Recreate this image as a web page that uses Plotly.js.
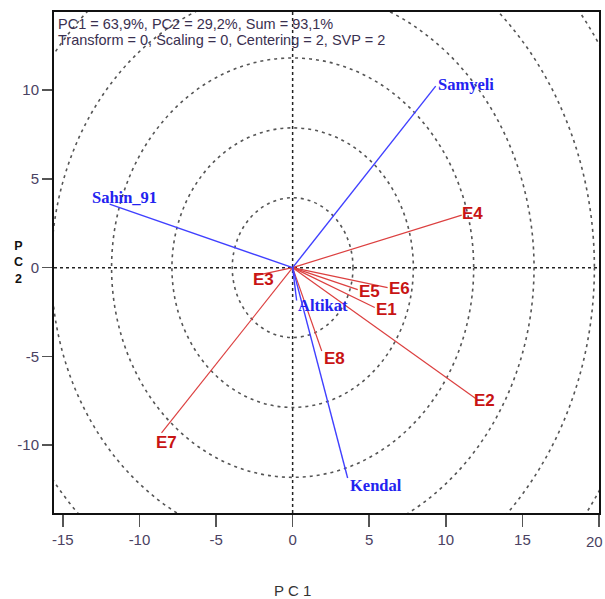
<!DOCTYPE html>
<html>
<head>
<meta charset="utf-8">
<script src="https://cdn.plot.ly/plotly-3.0.1.min.js"></script>
<style>html,body{margin:0;padding:0;background:#fff;}#chart{width:605px;height:599px;}</style>
</head>
<body>
<div id="chart"></div>
<script>
// ---- data ----
const genotypes = ['Samyeli', 'Sahin_91', 'Altikat', 'Kendal'];
const genoPC1 = [9.34, -11.95, 0.26, 3.59];
const genoPC2 = [10.23, 3.58, -1.85, -11.86];

const environments = ['E1', 'E2', 'E3', 'E4', 'E5', 'E6', 'E7', 'E8'];
const envPC1 = [5.36, 11.95, -2.42, 11.04, 4.25, 6.2, -8.56, 1.9];
const envPC2 = [-2.25, -7.38, -0.45, 2.96, -1.24, -1.13, -9.32, -4.7];

const circleRadii = [3.94, 7.88, 11.82, 15.76, 19.7, 23.64];

const xTicks = [-15, -10, -5, 0, 5, 10, 15, 20];
const yTicks = [-10, -5, 0, 5, 10];

const infoLines = ['PC1 = 63,9%, PC2 = 29,2%, Sum = 93,1%',
                   'Transform = 0, Scaling = 0, Centering = 2, SVP = 2'];

// ---- styling (label offsets in screen pixels: [dx, dy down]) ----
const genoOffsets = {Samyeli: [1, -2], Sahin_91: [-19, -7], Altikat: [0, 5], Kendal: [1, 7]};
const envOffsets = {E1: [0, 2], E2: [-3, 2], E3: [-4, 4], E4: [-1, -2], E5: [0, 2], E6: [0, 1], E7: [-7, 10], E8: [1, 7]};

function vectorTrace(xs, ys, color, width) {
  const x = [], y = [];
  xs.forEach((v, i) => { x.push(0, v, null); y.push(0, ys[i], null); });
  return {x, y, type: 'scatter', mode: 'lines', line: {color, width}, hoverinfo: 'skip', showlegend: false};
}

const traces = [
  vectorTrace(envPC1, envPC2, '#dc4040', 1.2),
  vectorTrace(genoPC1, genoPC2, '#4040ff', 1.4)
];

const shapes = [];
circleRadii.forEach(r => shapes.push({
  type: 'circle', xref: 'x', yref: 'y', x0: -r, x1: r, y0: -r, y1: r,
  line: {color: '#555', width: 1.6, dash: '3px,4px'}, layer: 'below'
}));
shapes.push({type: 'line', xref: 'paper', yref: 'y', x0: 0, x1: 1, y0: 0, y1: 0,
  line: {color: '#222', width: 1.5, dash: '3px,3px'}, layer: 'below'});
shapes.push({type: 'line', xref: 'x', yref: 'paper', x0: 0, x1: 0, y0: 0, y1: 1,
  line: {color: '#222', width: 1.5, dash: '3px,3px'}, layer: 'below'});

const tickFont = {family: 'Liberation Sans Narrow, Arial Narrow, Liberation Sans, Arial, sans-serif', size: 15, color: '#4a4262'};

const annotations = [];
genotypes.forEach((g, i) => {
  const o = genoOffsets[g];
  annotations.push({x: genoPC1[i], y: genoPC2[i], xref: 'x', yref: 'y', text: g, showarrow: false,
    xanchor: 'left', yanchor: 'middle', xshift: o[0], yshift: -o[1], borderpad: 0,
    font: {family: 'Liberation Serif, Times New Roman, serif', size: 16.5, color: '#2323f0', weight: 'bold'}});
});
environments.forEach((e, i) => {
  const o = envOffsets[e];
  annotations.push({x: envPC1[i], y: envPC2[i], xref: 'x', yref: 'y', text: e, showarrow: false,
    xanchor: 'left', yanchor: 'middle', xshift: o[0], yshift: -o[1], borderpad: 0,
    font: {family: 'Liberation Sans, Arial, sans-serif', size: 17, color: '#c81414', weight: 'bold'}});
});
infoLines.forEach((t, i) => {
  annotations.push({x: 0, y: 1, xref: 'paper', yref: 'paper', text: t, showarrow: false,
    xanchor: 'left', yanchor: 'middle', xshift: 3, yshift: -12 - 15.5 * i, borderpad: 0,
    font: {family: 'Liberation Sans, Arial, sans-serif', size: 14.5, color: '#3a3050'}});
});
annotations.push({x: 0, y: 0, xref: 'paper', yref: 'y', text: 'P<br>C<br>2', showarrow: false,
  xanchor: 'center', yanchor: 'middle', xshift: -36, yshift: 5, borderpad: 0,
  font: {family: 'Liberation Sans, Arial, sans-serif', size: 12.5, color: '#111', weight: 'bold'}});
annotations.push({x: 0, y: 0, xref: 'x', yref: 'paper', text: 'P C 1', showarrow: false,
  xanchor: 'center', yanchor: 'middle', yshift: -77, borderpad: 0,
  font: {family: 'Liberation Sans, Arial, sans-serif', size: 15, color: '#333'}});
// last x tick label sits at the window edge: draw it right-anchored so it stays whole
const lastX = xTicks[xTicks.length - 1];
annotations.push({x: lastX, y: 0, xref: 'x', yref: 'paper', text: String(lastX), showarrow: false,
  xanchor: 'right', yanchor: 'middle', xshift: 5, yshift: -28, borderpad: 0, font: tickFont});

const layout = {
  width: 605, height: 599,
  margin: {l: 54, r: 6, t: 12, b: 86, pad: 0},
  paper_bgcolor: '#fff', plot_bgcolor: '#fff',
  showlegend: false,
  xaxis: {range: [-15.58, 20.001], tickvals: xTicks, ticktext: xTicks.map(v => v === lastX ? '' : String(v)),
    showgrid: false, zeroline: false, showline: true, mirror: true, linecolor: '#111', linewidth: 2,
    ticks: 'outside', ticklen: 12, tickwidth: 1.5, tickcolor: '#555', tickfont: tickFont},
  yaxis: {range: [-13.83, 14.41], tickvals: yTicks, ticktext: yTicks.map(String),
    showgrid: false, zeroline: false, showline: true, mirror: true, linecolor: '#111', linewidth: 2,
    ticks: 'outside', ticklen: 10, tickwidth: 1.5, tickcolor: '#555', tickfont: tickFont},
  shapes, annotations
};

Plotly.newPlot('chart', traces, layout, {displayModeBar: false, staticPlot: true});
</script>
</body>
</html>
